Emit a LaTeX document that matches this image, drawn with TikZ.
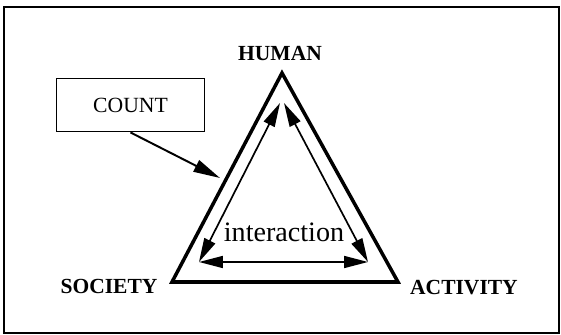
\documentclass[tikz,border=0pt]{standalone}
\usepackage{fontspec}
\setmainfont{Liberation Serif}
\usepackage{tikz}
\usetikzlibrary{arrows.meta}
\tikzset{
  frame/.style={draw=black, line width=1.3pt},
  tri/.style={draw=black, line width=2.5pt, line join=miter},
  link/.style={draw=black, line width=1.2pt, {Triangle[length=17pt,width=8.5pt]}-{Triangle[length=17pt,width=8.5pt]}},
  push/.style={draw=black, line width=1.4pt, -{Triangle[length=19pt,width=9pt]}},
  box/.style={draw=black, line width=1.2pt, minimum width=3.7cm, minimum height=1.33cm, font=\fontsize{15.4}{17}\selectfont},
  lab/.style={font=\fontsize{15.3}{17}\selectfont\bfseries},
  labi/.style={font=\fontsize{20}{22}\selectfont, inner sep=1pt},
}
\begin{document}
\begin{tikzpicture}[x=0.025cm, y=-0.025cm]
  \useasboundingbox (0,0) rectangle (561,335);
  \draw[frame] (4,7) rectangle (559,333);
  % outer triangle
  \coordinate (T) at (282,73);
  \coordinate (L) at (172,282);
  \coordinate (R) at (398,282);
  \draw[tri] (T) -- (L) -- (R) -- cycle;
  % inner arrows
  \coordinate (ta) at (280,103);
  \coordinate (tb) at (284,103);
  \coordinate (il) at (199,262);
  \coordinate (ir) at (368,262);
  \draw[link] (il) -- (ta);
  \draw[link] (tb) -- (ir);
  \draw[link] (il) -- (ir);
  \node[labi] (inter) at (284,232) {interaction};
  % labels
  \node[lab] (human) at (280,53) {HUMAN};
  \node[lab] (society) at (109,286) {SOCIETY};
  \node[lab] (activity) at (464,288) {ACTIVITY};
  % count box
  \node[box] (count) at (130.5,105) {COUNT};
  \coordinate (hit) at (220,178);
  \draw[push] (count.south) -- (hit);
\end{tikzpicture}
\end{document}
